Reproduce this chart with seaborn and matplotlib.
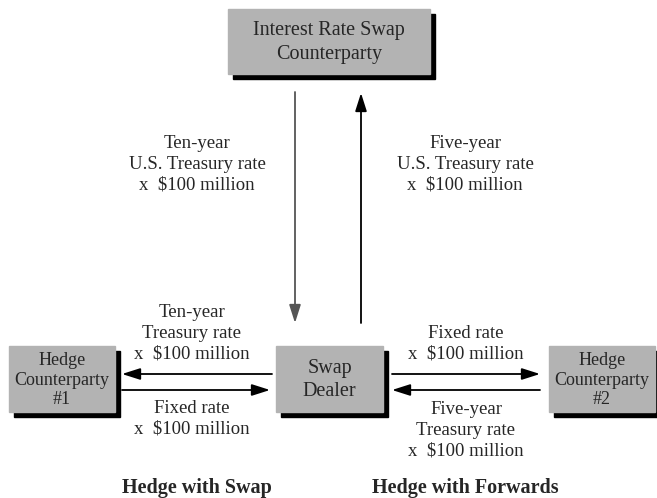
import numpy as np
import pandas as pd
import matplotlib
matplotlib.use('Agg')
import matplotlib.pyplot as plt
import seaborn as sns
from matplotlib.patches import Rectangle

sns.set_theme(style='white')
plt.rcParams['font.family'] = ['Liberation Serif', 'DejaVu Serif']

# box labels and their places (pixel coords, y downwards)
box_text = ['Interest Rate Swap\nCounterparty', 'Swap\nDealer',
            'Hedge\nCounterparty\n#1', 'Hedge\nCounterparty\n#2']
box_x0 = [228, 276, 9, 549]
box_x1 = [430, 383, 115, 655]
box_y0 = [9, 346, 346, 346]
box_y1 = [74, 412, 412, 412]

# arrows: start -> tip
arr_x0 = [295, 361, 272, 122, 392, 540]
arr_y0 = [92, 323, 374, 390, 374, 390]
arr_x1 = [295, 361, 122, 270, 540, 392]
arr_y1 = [323, 93, 374, 390, 374, 390]
arr_col = ['#555555', 'black', 'black', 'black', 'black', 'black']

# flow labels
lab_text = ['Ten-year\nU.S. Treasury rate\nx  $100 million',
            'Five-year\nU.S. Treasury rate\nx  $100 million',
            'Ten-year\nTreasury rate\nx  $100 million',
            'Fixed rate\nx  $100 million',
            'Fixed rate\nx  $100 million',
            'Five-year\nTreasury rate\nx  $100 million']
lab_x = [197, 465, 192, 192, 466, 466]
lab_yc = [164, 164, 333, 419, 344, 430]

titles = ['Hedge with Swap', 'Hedge with Forwards']
title_x = [197, 465]
title_y = [488, 488]

fig = plt.figure(figsize=(6.57, 4.98), dpi=100)
ax = fig.add_axes([0, 0, 1, 1])
ax.set_xlim(0, 657)
ax.set_ylim(498, 0)
ax.axis('off')

for t, x0, x1, y0, y1 in zip(box_text, box_x0, box_x1, box_y0, box_y1):
    ax.add_patch(Rectangle((x0 + 5, y0 + 5), x1 - x0, y1 - y0, color='black', zorder=1))
    ax.add_patch(Rectangle((x0, y0), x1 - x0, y1 - y0, color='#b3b3b3', zorder=2))
    small = '\n#' in t
    ax.text((x0 + x1) / 2, (y0 + y1) / 2 + 1, t, ha='center', va='center',
            fontsize=13 if small else 14.5, linespacing=1.2 if small else 1.35,
            zorder=3)

for x0, y0, x1, y1, c in zip(arr_x0, arr_y0, arr_x1, arr_y1, arr_col):
    ax.annotate('', xy=(x1, y1), xytext=(x0, y0),
                arrowprops=dict(arrowstyle='-|>,head_length=1.1,head_width=0.35',
                                mutation_scale=10, color=c, lw=1.3,
                                shrinkA=0, shrinkB=0))

for t, x, y in zip(lab_text, lab_x, lab_yc):
    ax.text(x, y, t, ha='center', va='center', fontsize=13.5, linespacing=1.3)

for t, x, y in zip(titles, title_x, title_y):
    ax.text(x, y, t, ha='center', va='center', fontsize=14.5, fontweight='bold')

fig.savefig('out.png', dpi=100)
